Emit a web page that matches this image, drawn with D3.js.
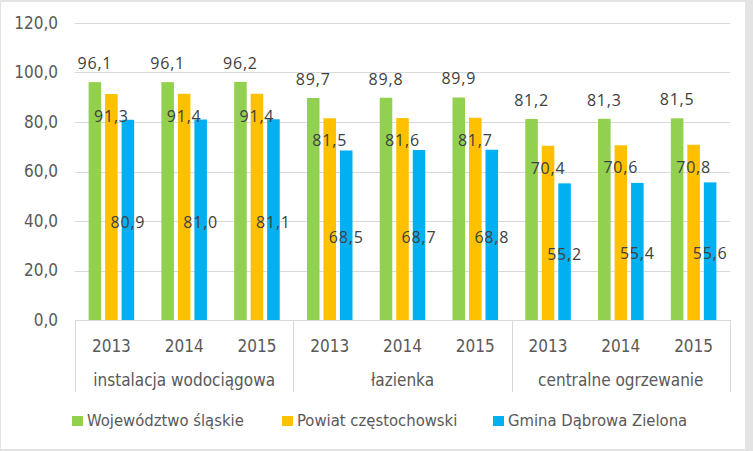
<!DOCTYPE html>
<html><head><meta charset="utf-8">
<script src="https://cdn.jsdelivr.net/npm/d3@7"></script>
<style>body{margin:0;background:#fff}</style>
</head><body>
<svg id="c" width="753" height="451"></svg>
<script>
const groups = ["instalacja wodociągowa", "łazienka", "centralne ogrzewanie"];
const years = ["2013", "2014", "2015"];
const seriesNames = ["Województwo śląskie", "Powiat częstochowski", "Gmina Dąbrowa Zielona"];
const seriesColors = ["#92D050", "#FFC000", "#00B0F0"];
const wojewodztwo = [96.1, 96.1, 96.2, 89.7, 89.8, 89.9, 81.2, 81.3, 81.5];
const powiat = [91.3, 91.4, 91.4, 81.5, 81.6, 81.7, 70.4, 70.6, 70.8];
const gmina = [80.9, 81.0, 81.1, 68.5, 68.7, 68.8, 55.2, 55.4, 55.6];
const yTicks = [0, 20, 40, 60, 80, 100, 120];

(function () {
const seriesValues = [wojewodztwo, powiat, gmina];
const svg = d3.select("#c");
const fmt = v => d3.format(".1f")(v).replace(".", ",");
const narrow = "'Liberation Sans Narrow','DejaVu Sans Condensed',sans-serif";
const labelFont = "'Open Sans','DejaVu Sans',sans-serif";

// frame
svg.append("rect").attr("x", 0).attr("y", 0).attr("width", 753).attr("height", 451).attr("fill", "#e3e3e3");
svg.append("rect").attr("x", 1).attr("y", 2).attr("width", 744).attr("height", 447).attr("fill", "#fff");

const pLeft = 75, pRight = 730, pTop = 23, pBottom = 320;
const y = d3.scaleLinear().domain([0, 120]).range([pBottom, pTop]);
const cats = d3.range(9);
const x = d3.scaleBand().domain(cats).range([pLeft, pRight]).padding(0);
const xs = d3.scaleBand().domain(d3.range(3)).range([-24.75, 24.75]).paddingInner(0.24).paddingOuter(0.12);

// gridlines
svg.append("g").selectAll("line").data(yTicks).join("line")
  .attr("x1", pLeft).attr("x2", pRight)
  .attr("y1", d => Math.round(y(d)) + 0.5).attr("y2", d => Math.round(y(d)) + 0.5)
  .attr("stroke", "#d9d9d9");

// y axis labels
const yAxis = d3.axisLeft(y).tickValues(yTicks).tickFormat(fmt).tickSize(0).tickPadding(17);
const gy = svg.append("g").attr("transform", `translate(${pLeft},0)`).call(yAxis);
gy.select(".domain").remove();
gy.selectAll("text").attr("font-family", narrow).attr("font-size", 17).attr("fill", "#595959");

// bars
cats.forEach(i => {
  seriesValues.forEach((vals, s) => {
    const cx = x(i) + x.bandwidth() / 2;
    svg.append("rect")
      .attr("x", cx + xs(s)).attr("width", xs.bandwidth())
      .attr("y", y(vals[i])).attr("height", y(0) - y(vals[i]))
      .attr("fill", seriesColors[s]);
  });
});

// labels
cats.forEach(i => {
  const cx = x(i) + x.bandwidth() / 2;
  seriesValues.forEach((vals, s) => {
    const bx = cx + xs(s) + xs.bandwidth() / 2;
    let ty;
    if (s === 0) ty = y(vals[i]) - 13;
    else if (s === 1) ty = y(vals[i]) + 28;
    else ty = (y(vals[i]) + y(0)) / 2 + 8;
    svg.append("text").attr("x", bx).attr("y", ty)
      .attr("text-anchor", "middle").attr("font-family", labelFont)
      .attr("font-size", 16).attr("letter-spacing", 0.8).attr("fill", "#404040").text(fmt(vals[i]));
  });
});

// x axis: category separators
const sepX = [0, 3, 6].map(i => x(i)).concat([pRight]);
svg.append("g").selectAll("line").data(sepX).join("line")
  .attr("x1", d => Math.round(d) + 0.5).attr("x2", d => Math.round(d) + 0.5)
  .attr("y1", pBottom).attr("y2", 392).attr("stroke", "#d9d9d9");

svg.append("g").selectAll("text").data(cats).join("text")
  .attr("x", i => x(i) + x.bandwidth() / 2).attr("y", 352)
  .attr("text-anchor", "middle").attr("font-family", narrow).attr("font-size", 17)
  .attr("fill", "#595959").text(i => years[i % 3]);

svg.append("g").selectAll("text").data(groups).join("text")
  .attr("x", (d, g) => x(g * 3) + x.bandwidth() * 1.5).attr("y", 386)
  .attr("text-anchor", "middle").attr("font-family", narrow).attr("font-size", 17)
  .attr("fill", "#595959").text(d => d);

// legend
const legX = [72, 282, 493];
const lg = svg.append("g");
seriesNames.forEach((n, s) => {
  lg.append("rect").attr("x", legX[s]).attr("y", 416).attr("width", 11).attr("height", 10).attr("fill", seriesColors[s]);
  lg.append("text").attr("x", legX[s] + 15).attr("y", 426).attr("font-family", narrow)
    .attr("font-size", 16.5).attr("fill", "#595959").text(n);
});
})();
</script>
</body></html>
